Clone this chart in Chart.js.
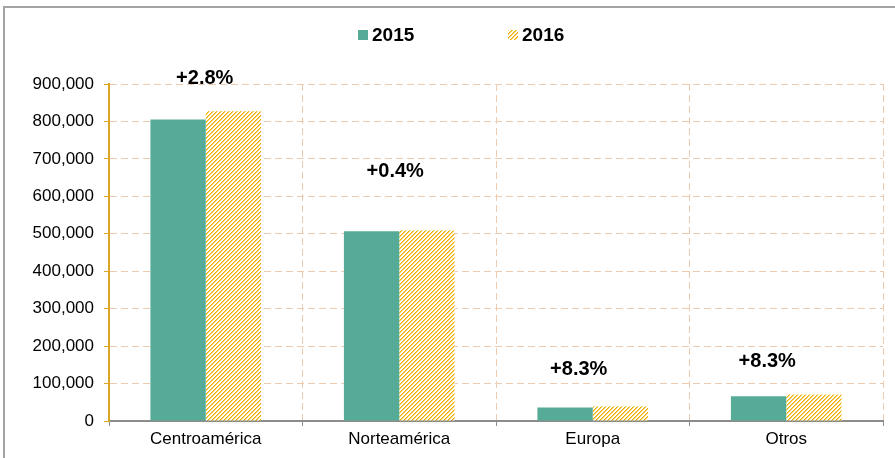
<!DOCTYPE html>
<html>
<head>
<meta charset="utf-8">
<script src="https://cdn.jsdelivr.net/npm/chart.js@4"></script>
<style>
    html, body { margin: 0; padding: 0; background: #fff; }
    #wrap { position: relative; width: 895px; height: 458px; overflow: hidden; }
    #frame { position: absolute; left: 3px; top: 6px; width: 1000px; height: 1000px;
             border-left: 2px solid #a3a3a3; border-top: 2px solid #a3a3a3; pointer-events: none; }
    #legend { position: absolute; top: 25px; left: 0; width: 895px; height: 20px;
              font: bold 19px "Liberation Sans", Arial, sans-serif; color: #000; }
    .item { position: absolute; top: 0; display: flex; align-items: center; height: 20px; }
    .item canvas { margin-right: 4px; }
</style>
</head>
<body>
<div id="wrap">
    <canvas id="exports" width="895" height="458"></canvas>
    <div id="legend"></div>
    <div id="frame"></div>
</div>
<script>
// data
let categories = ['Centroamérica', 'Norteamérica', 'Europa', 'Otros'];
let series_names = ['2015', '2016'];
let values_2015 = [805000, 507000, 36000, 66000];
let values_2016 = [827000, 509000, 39000, 71000];
let growth_labels = ['+2.8%', '+0.4%', '+8.3%', '+8.3%'];
let growth_levels = [915000, 666000, 137500, 160000];
let y_ticks = [0, 100000, 200000, 300000, 400000, 500000, 600000, 700000, 800000, 900000];

document.addEventListener('DOMContentLoaded', function() {
    bar_chart(document.getElementById('exports'));
});

function hatch_pattern(){
    let c = document.createElement('canvas');
    c.width = 4; c.height = 4;
    let ctx = c.getContext('2d');
    ctx.fillStyle = '#ffffff';
    ctx.fillRect(0, 0, 4, 4);
    // stepped diagonal stripe, dark core + lighter edge
    for (let i = 0; i < 4; i++) {
        ctx.fillStyle = '#eeaa00';
        ctx.fillRect(i, 3 - i, 1, 1);
        ctx.fillStyle = '#f8d366';
        ctx.fillRect((i + 1) % 4, 3 - i, 1, 1);
    }
    return ctx.createPattern(c, 'repeat');
}

// percentage labels above each group
const growthPlugin = {
    id: 'growth',
    afterDatasetsDraw(chart, args, opts) {
        let ctx = chart.ctx;
        let x = chart.scales.x, y = chart.scales.y;
        ctx.save();
        ctx.font = 'bold 20px "Liberation Sans", Arial, sans-serif';
        ctx.fillStyle = '#000';
        ctx.textAlign = 'center';
        ctx.textBaseline = 'middle';
        growth_labels.forEach(function(t, i) {
            ctx.fillText(t, x.getPixelForValue(i) + opts.shift[i], y.getPixelForValue(growth_levels[i]));
        });
        ctx.restore();
    }
};

function html_legend(chart){
    let box = document.getElementById('legend');
    let lefts = [358, 508];
    chart.data.datasets.forEach(function(ds, i) {
        let item = document.createElement('div');
        item.className = 'item';
        item.style.left = lefts[i] + 'px';
        let sw = document.createElement('canvas');
        sw.width = 10; sw.height = 10;
        let sctx = sw.getContext('2d');
        sctx.fillStyle = ds.backgroundColor;
        sctx.fillRect(0, 0, 10, 10);
        item.appendChild(sw);
        let span = document.createElement('span');
        span.textContent = ds.label;
        item.appendChild(span);
        box.appendChild(item);
    });
}

function bar_chart(canvas){
    let font = {family: '"Liberation Sans", Arial, sans-serif', size: 17};
    let data_exports = {
        labels: categories,
        datasets: [
            {
                label: series_names[0],
                data: values_2015,
                backgroundColor: '#56ab97',
                borderWidth: 0
            },
            {
                label: series_names[1],
                data: values_2016,
                backgroundColor: hatch_pattern(),
                borderWidth: 0
            }
        ]
    };
    let config_exports = {
        type: 'bar',
        data: data_exports,
        plugins: [growthPlugin],
        options: {
            responsive: false,
            animation: false,
            events: [],
            layout: { padding: { top: 84, right: 12, bottom: 0, left: 0 } },
            datasets: { bar: { categoryPercentage: 0.572, barPercentage: 1 } },
            plugins: {
                legend: { display: false },
                tooltip: { enabled: false },
                growth: { shift: [-1, -4, -14, -19] }
            },
            scales: {
                x: {
                    offset: true,
                    grid: { offset: true, color: '#eccbb0', tickColor: '#8c8c8c', tickLength: 5 },
                    border: { color: '#8c8c8c', width: 2, dash: [7, 4] },
                    ticks: { color: '#000', font: font, padding: 3 },
                    afterFit: function(s) { s.height = 37; }
                },
                y: {
                    min: 0,
                    max: 900000,
                    afterBuildTicks: function(s) { s.ticks = y_ticks.map(v => ({value: v})); },
                    grid: { color: '#eccbb0', tickColor: '#dba624', tickLength: 5 },
                    border: { color: '#dba624', width: 2, dash: [7, 4] },
                    ticks: {
                        color: '#000', font: font, padding: 10,
                        callback: function(v) { return v.toLocaleString('en-US'); }
                    },
                    afterFit: function(s) { s.width = 109; }
                }
            }
        }
    };

    let exports_chart = new Chart(canvas, config_exports);
    html_legend(exports_chart);
}
</script>
</body>
</html>
